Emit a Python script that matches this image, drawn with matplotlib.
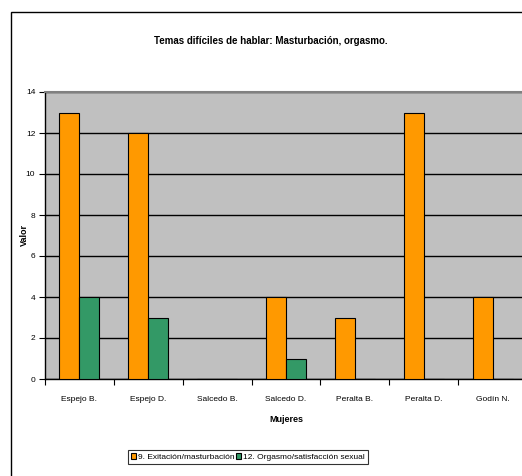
import numpy as np
import matplotlib.pyplot as plt
from matplotlib.patches import Rectangle

categorias = ["Espejo B.", "Espejo D.", "Salcedo B.", "Salcedo D.", "Peralta B.", "Peralta D.", "Godín N."]
exitacion = [13, 12, 0, 4, 3, 13, 4]
orgasmo = [4, 3, 0, 1, 0, 0, 0]
serie_1 = "9. Exitación/masturbación"
serie_2 = "12. Orgasmo/satisfacción sexual"

plt.rcParams['font.family'] = ['Liberation Sans', 'DejaVu Sans']

fig = plt.figure(figsize=(5.22, 4.76), dpi=100)
fig.patch.set_facecolor("white")

# marco exterior del gráfico (cortado a la derecha y abajo)
fig.patches.append(Rectangle((11 / 522, -0.1), 1.2, 1 - 12 / 476 + 0.1,
                             transform=fig.transFigure, fill=False,
                             edgecolor="black", linewidth=1.0))

ax = fig.add_axes([45 / 522, 1 - 379 / 476, 482 / 522, 287 / 476])
ax.set_facecolor("#C0C0C0")

x = np.arange(len(categorias))
ancho = 0.29
ax.bar(x - ancho / 2, exitacion, ancho, color="#FF9900", edgecolor="black", linewidth=0.8,
       label=serie_1, zorder=3)
ax.bar(x + ancho / 2, orgasmo, ancho, color="#339966", edgecolor="black", linewidth=0.8,
       label=serie_2, zorder=3)

ax.set_xlim(-0.5, len(categorias) - 0.5)
ax.set_ylim(0, 14)
ax.set_yticks(range(0, 15, 2))
ax.yaxis.grid(True, color="black", linewidth=1.0, zorder=1)
ax.set_axisbelow(True)

ax.set_xticks(np.arange(-0.5, len(categorias), 1))
ax.set_xticklabels([])
ax.set_xticks(x, minor=True)
ax.set_xticklabels(categorias, minor=True, fontsize=6)
ax.tick_params(axis="x", which="major", length=4, direction="out")
ax.tick_params(axis="x", which="minor", length=0, pad=12)
ax.tick_params(axis="y", length=4, labelsize=6, pad=3)

ax.spines["top"].set_color("#808080")
ax.spines["top"].set_linewidth(1.5)
ax.spines["right"].set_visible(False)
ax.spines["left"].set_linewidth(1.0)
ax.spines["bottom"].set_linewidth(1.0)

ax.set_xlabel("Mujeres", fontsize=6.5, fontweight="bold", labelpad=9)
ax.set_ylabel("Valor", fontsize=6.5, fontweight="bold")
ax.yaxis.set_label_coords(-(45 - 29) / 482, 0.5)

fig.text(271 / 522, 1 - 41 / 476, "Temas difíciles de hablar: Masturbación, orgasmo.",
         ha="center", va="center", fontsize=7, fontweight="bold")

leg = fig.legend(loc="center", bbox_to_anchor=(248 / 522, 1 - 457 / 476), ncol=2,
                 fontsize=6, frameon=True, fancybox=False, edgecolor="black",
                 handlelength=0.6, handleheight=0.6, handletextpad=0.2,
                 columnspacing=0.2, borderpad=0.4, borderaxespad=0)
leg.get_frame().set_linewidth(0.8)

fig.savefig("out.png", dpi=100)
